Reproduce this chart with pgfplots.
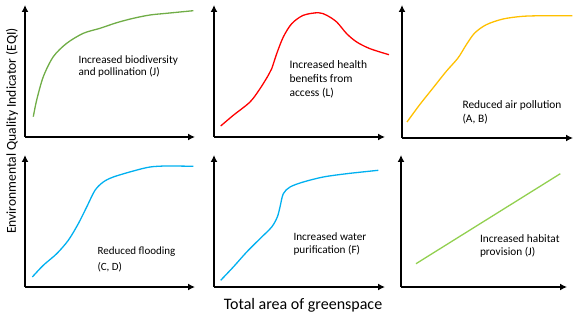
\documentclass[border=0pt]{standalone}
\usepackage{pgfplots}
\pgfplotsset{compat=1.18}
\usetikzlibrary{arrows.meta}
\usepackage{fontspec}
\setmainfont{Carlito}
\definecolor{cgreen}{RGB}{112,173,71}
\definecolor{cred}{RGB}{255,0,0}
\definecolor{corange}{RGB}{255,192,0}
\definecolor{cblue}{RGB}{0,176,240}
\definecolor{clgreen}{RGB}{146,208,80}
\pgfplotsset{
  panel/.style={
    scale only axis, anchor=south west,
    xmin=0, ymin=0, ymax=132,
    axis lines=left, ticks=none, clip=false,
    axis line style={line width=2pt, -{Latex[length=7pt,width=7pt]}},
  },
}
\tikzset{
  curve/.style={line width=1.3pt, smooth, tension=0.5},
  lbl/.style={anchor=west, align=left},
}
\begin{document}
\begin{tikzpicture}
\useasboundingbox (0,0) rectangle (575pt,316pt);
% Panel 1
\begin{axis}[panel, at={(25pt,179pt)}, width=170pt, height=132pt, xmax=170]
\addplot[curve, no markers, cgreen] coordinates {(8.3,20.3) (11.7,37) (18.3,60.3) (28.3,80.3) (41.7,93.7) (58.3,103.7) (75,108.7) (91.7,114.3) (108.3,118.7) (125,122) (141.7,123.7) (168.3,126.3)};
\node[lbl, font=\fontsize{11.2}{12}\selectfont] at (axis cs:50,70.5) {Increased biodiversity\\and pollination (J)};
\end{axis}
% Panel 2
\begin{axis}[panel, at={(214pt,179pt)}, width=171pt, height=132pt, xmax=171]
\addplot[curve, no markers, cred] coordinates {(6.7,11) (19.3,21.7) (36,35) (46,48.3) (54.3,61.7) (57.7,68.3) (62.7,83.3) (69.3,100) (77.7,113.3) (89.3,121.7) (104.3,124.3) (112.7,121.7) (122.7,115) (132.7,103.3) (142.7,95) (156,88.3) (175,82.3)};
\node[lbl, font=\fontsize{11.5}{14}\selectfont] at (axis cs:72,58) {Increased health\\benefits from\\access (L)};
\end{axis}
% Panel 3
\begin{axis}[panel, at={(402pt,178pt)}, width=171pt, height=133pt, xmax=171, ymax=133]
\addplot[curve, no markers, corange] coordinates {(5,16) (17.7,33.3) (31,50) (44.3,66.7) (56,80) (64.3,93.3) (72.7,105) (84.3,113.3) (101,119) (121,121.7) (144.3,122.3) (170.3,122.3)};
\node[lbl, font=\fontsize{11.4}{13.5}\selectfont] at (axis cs:57,25.6) {Reduced air pollution\\(A, B)};
\end{axis}
% Panel 4
\begin{axis}[panel, at={(25pt,29pt)}, width=170pt, height=132pt, xmax=170]
\addplot[curve, no markers, cblue] coordinates {(7.3,10) (18.3,21.7) (31.7,33.3) (43.3,46.7) (53.3,63.3) (61.7,80) (70,96.7) (78.3,105) (88.3,110) (108.3,116) (125,120) (141.7,121) (168.3,120.7)};
\node[lbl, font=\fontsize{11}{16}\selectfont] at (axis cs:69,28) {Reduced flooding\\(C, D)};
\end{axis}
% Panel 5
\begin{axis}[panel, at={(214pt,29pt)}, width=171pt, height=132pt, xmax=171]
\addplot[curve, no markers, cblue] coordinates {(6.7,6.7) (19.3,20) (32.7,35) (46,48.3) (57.7,60) (63.3,70) (66,80) (69.3,93.3) (76,100) (89.3,105) (109.3,110) (132.7,113.3) (164.3,116.7)};
\node[lbl, font=\fontsize{11.2}{12.5}\selectfont] at (axis cs:76,42.8) {Increased water\\purification (F)};
\end{axis}
% Panel 6
\begin{axis}[panel, at={(401pt,29pt)}, width=166pt, height=132pt, xmax=166]
\addplot[curve, no markers, clgreen] coordinates {(15,23.3) (159.3,113.3)};
\node[lbl, font=\fontsize{11.3}{13.5}\selectfont] at (axis cs:75.5,41) {Increased habitat\\provision (J)};
\end{axis}
\node[rotate=90, font=\fontsize{13.6}{15}\selectfont] at (12pt,185pt) {Environmental Quality Indicator (EQI)};
\node[font=\fontsize{16}{18}\selectfont] at (303pt,11pt) {Total area of greenspace};
\end{tikzpicture}
\end{document}
